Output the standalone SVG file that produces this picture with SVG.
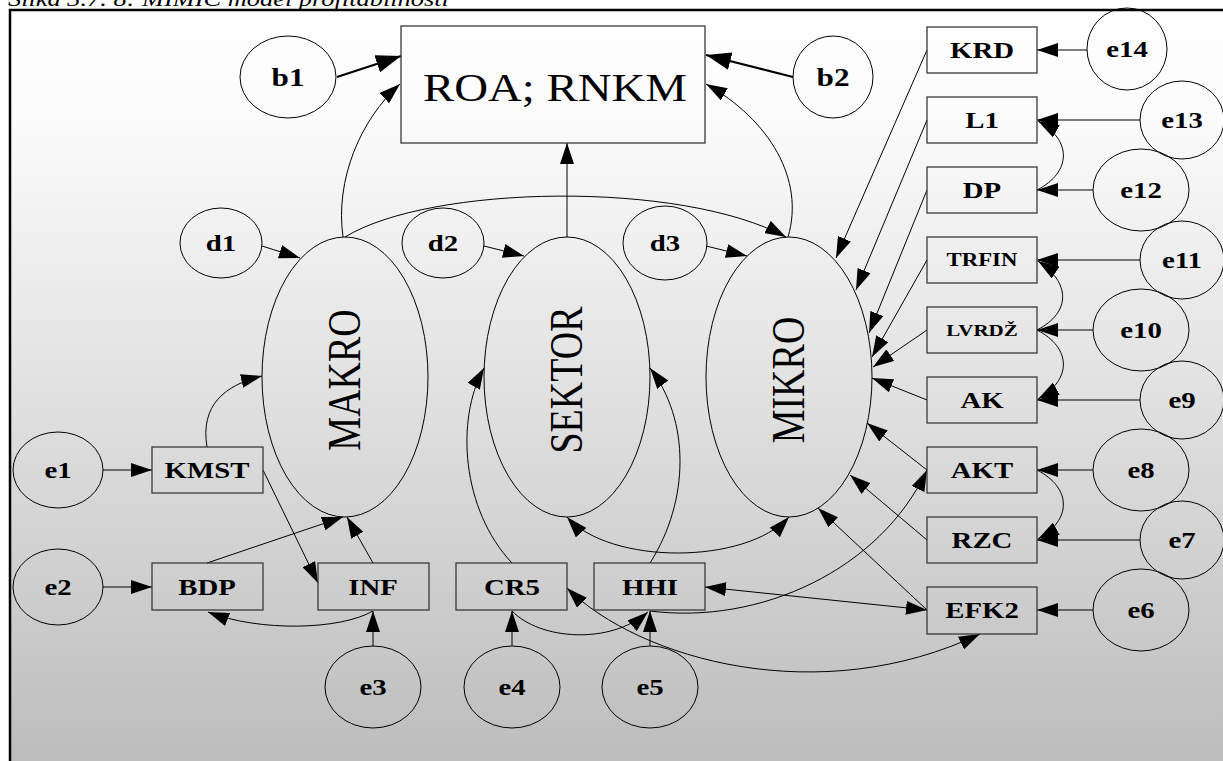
<svg xmlns="http://www.w3.org/2000/svg" width="1223" height="761" viewBox="0 0 1223 761">
  <defs>
    <linearGradient id="bg" gradientUnits="userSpaceOnUse" x1="0" y1="10" x2="0" y2="761">
      <stop offset="0" stop-color="#ffffff"/>
      <stop offset="0.15" stop-color="#fbfbfb"/>
      <stop offset="1" stop-color="#bdbdbd"/>
    </linearGradient>
    <marker id="ah" viewBox="0 0 21 14" refX="21" refY="7" markerWidth="21" markerHeight="14" markerUnits="userSpaceOnUse" orient="auto-start-reverse">
      <path d="M0,0 L21,7 L0,14 Z" fill="#000"/>
    </marker>
    <marker id="ahb" viewBox="0 0 25 18" refX="25" refY="9" markerWidth="25" markerHeight="18" markerUnits="userSpaceOnUse" orient="auto">
      <path d="M0,0 L25,9 L0,18 Z" fill="#000"/>
    </marker>
    <style>
      text { font-family: "Liberation Serif", "Times New Roman", serif; fill: #000; }
      .cap { font-style: italic; font-size: 22px; }
      .box { fill: none; stroke: #3a3a3a; stroke-width: 1.3; }
      .ell { fill: none; stroke: #000; stroke-width: 1; }
      .lbl { font-weight: bold; font-size: 24px; text-anchor: middle; }
      .lbl.sm { font-size: 19px; }
      .lbl.xs { font-size: 17.5px; }
      .lbl.big { font-size: 26px; }
      .lat { font-size: 38px; text-anchor: middle; }
      .roa { font-size: 39px; text-anchor: middle; }
      .c { fill: none; stroke: #000; stroke-width: 1; marker-end: url(#ah); }
      .c2 { fill: none; stroke: #000; stroke-width: 1; marker-start: url(#ah); marker-end: url(#ah); }
      .thick { fill: none; stroke: #000; stroke-width: 2.2; marker-end: url(#ahb); }
    </style>
  </defs>

  <!-- caption, partly above the page edge -->
  <text class="cap" transform="translate(8 6) scale(1.2 1)">Slika 3.7. 8: MIMIC model profitabilnosti</text>

  <!-- framed background -->
  <rect x="10" y="10" width="1240" height="800" fill="url(#bg)" stroke="#000" stroke-width="2.5"/>

  <!-- connectors -->
  <g id="connectors">
    <path class="thick" d="M337,77 L401,56"/>
    <path class="thick" d="M793,77 L706,55"/>
    <path class="c" d="M343,237 C335,180 360,120 400,84"/>
    <path class="c" d="M567,237 L567,143"/>
    <path class="c" d="M788,237 C805,180 770,120 706,84"/>
    <path class="c" d="M345,237 C430,185 680,180 786,237"/>
    <path class="c" d="M262,246 L300,258"/>
    <path class="c" d="M484,246 L524,256"/>
    <path class="c" d="M706,246 L747,256"/>

    <path class="c" d="M927,50 L836,258"/>
    <path class="c" d="M927,120 L856,290"/>
    <path class="c" d="M927,190 L869,333"/>
    <path class="c" d="M927,260 L872,357"/>
    <path class="c" d="M927,330 L873,367"/>
    <path class="c" d="M927,400 L872,378"/>
    <path class="c" d="M927,470 L867,423"/>
    <path class="c" d="M927,540 L850,475"/>
    <path class="c" d="M927,610 L818,508"/>

    <path class="c" d="M650,611 C760,625 880,570 927,470"/>
    <path class="c2" d="M927,610 L705,587"/>
    <path class="c2" d="M567,588 C640,660 820,710 980,634"/>
    <path class="c2" d="M567,517 C610,565 745,565 789,517"/>

    <path class="c" d="M512,563 C462,510 455,420 484,368"/>
    <path class="c" d="M650,563 C690,500 690,420 650,368"/>
    <path class="c" d="M512,611 C540,640 610,645 648,612"/>

    <path class="c" d="M207,447 C200,405 225,385 262,376"/>
    <path class="c" d="M263,470 L318,583"/>
    <path class="c" d="M207,563 L343,517"/>
    <path class="c" d="M373,563 L347,517"/>
    <path class="c" d="M373,611 C340,630 260,632 208,612"/>

    <path class="c" d="M103,470 L152,470"/>
    <path class="c" d="M103,587 L152,587"/>
    <path class="c" d="M373,646 L373,611"/>
    <path class="c" d="M512,646 L512,611"/>
    <path class="c" d="M650,646 L650,611"/>

    <path class="c" d="M1087,50 L1037,50"/>
    <path class="c" d="M1140,120 L1037,120"/>
    <path class="c" d="M1093,190 L1037,190"/>
    <path class="c" d="M1140,260 L1037,260"/>
    <path class="c" d="M1093,330 L1037,330"/>
    <path class="c" d="M1140,400 L1037,400"/>
    <path class="c" d="M1093,470 L1037,470"/>
    <path class="c" d="M1140,540 L1037,540"/>
    <path class="c" d="M1093,610 L1037,610"/>

    <path class="c" d="M1037,190 C1072,172 1072,140 1038,121"/>
    <path class="c" d="M1037,330 C1072,312 1070,282 1038,261"/>
    <path class="c" d="M1037,330 C1072,348 1072,380 1038,399"/>
    <path class="c" d="M1037,470 C1072,488 1072,520 1038,539"/>
  </g>

  <!-- outcome -->
  <g id="ROA"><rect class="box" x="401" y="26" width="304" height="117"/>
    <text class="roa" transform="translate(555 101) scale(1.2 1)">ROA; RNKM</text></g>
  <g id="b1"><ellipse class="ell" cx="288" cy="77" rx="48" ry="41"/>
    <text class="lbl big" transform="translate(288 86) scale(1.2 1)">b1</text></g>
  <g id="b2"><ellipse class="ell" cx="833" cy="77" rx="40" ry="41"/>
    <text class="lbl big" transform="translate(833 86) scale(1.2 1)">b2</text></g>

  <!-- latent constructs -->
  <g id="MAKRO"><ellipse class="ell" cx="345" cy="377" rx="83" ry="140"/>
    <text class="lat" transform="translate(345 380) scale(1.2 1) rotate(-90)" y="12.5">MAKRO</text></g>
  <g id="SEKTOR"><ellipse class="ell" cx="567" cy="377" rx="83" ry="140"/>
    <text class="lat" transform="translate(567 380) scale(1.2 1) rotate(-90)" y="12.5">SEKTOR</text></g>
  <g id="MIKRO"><ellipse class="ell" cx="789" cy="377" rx="83" ry="140"/>
    <text class="lat" transform="translate(789 380) scale(1.2 1) rotate(-90)" y="12.5">MIKRO</text></g>

  <g id="d1"><ellipse class="ell" cx="221" cy="243" rx="41" ry="35"/>
    <text class="lbl" transform="translate(221 251) scale(1.2 1)">d1</text></g>
  <g id="d2"><ellipse class="ell" cx="443" cy="243" rx="41" ry="35"/>
    <text class="lbl" transform="translate(443 251) scale(1.2 1)">d2</text></g>
  <g id="d3"><ellipse class="ell" cx="665" cy="243" rx="42" ry="37"/>
    <text class="lbl" transform="translate(665 251) scale(1.2 1)">d3</text></g>

  <!-- macro indicators -->
  <g id="KMST"><rect class="box" x="152" y="447" width="111" height="46"/>
    <text class="lbl" transform="translate(207 478) scale(1.2 1)">KMST</text></g>
  <g id="BDP"><rect class="box" x="152" y="563" width="111" height="47"/>
    <text class="lbl" transform="translate(207 595) scale(1.2 1)">BDP</text></g>
  <g id="INF"><rect class="box" x="318" y="563" width="111" height="47"/>
    <text class="lbl" transform="translate(373 595) scale(1.2 1)">INF</text></g>
  <g id="e1"><ellipse class="ell" cx="58" cy="470" rx="45" ry="38"/>
    <text class="lbl" transform="translate(58 478) scale(1.2 1)">e1</text></g>
  <g id="e2"><ellipse class="ell" cx="58" cy="587" rx="45" ry="38"/>
    <text class="lbl" transform="translate(58 595) scale(1.2 1)">e2</text></g>
  <g id="e3"><ellipse class="ell" cx="373" cy="687" rx="48" ry="41"/>
    <text class="lbl" transform="translate(373 695) scale(1.2 1)">e3</text></g>

  <!-- sector indicators -->
  <g id="CR5"><rect class="box" x="456" y="563" width="111" height="47"/>
    <text class="lbl" transform="translate(512 595) scale(1.2 1)">CR5</text></g>
  <g id="HHI"><rect class="box" x="594" y="563" width="111" height="47"/>
    <text class="lbl" transform="translate(650 595) scale(1.2 1)">HHI</text></g>
  <g id="e4"><ellipse class="ell" cx="512" cy="687" rx="48" ry="41"/>
    <text class="lbl" transform="translate(512 695) scale(1.2 1)">e4</text></g>
  <g id="e5"><ellipse class="ell" cx="650" cy="687" rx="48" ry="41"/>
    <text class="lbl" transform="translate(650 695) scale(1.2 1)">e5</text></g>

  <!-- micro indicators -->
  <g id="KRD"><rect class="box" x="927" y="27" width="110" height="46"/>
    <text class="lbl" transform="translate(982 58) scale(1.2 1)">KRD</text></g>
  <g id="L1"><rect class="box" x="927" y="97" width="110" height="46"/>
    <text class="lbl" transform="translate(982 128) scale(1.2 1)">L1</text></g>
  <g id="DP"><rect class="box" x="927" y="167" width="110" height="46"/>
    <text class="lbl" transform="translate(982 198) scale(1.2 1)">DP</text></g>
  <g id="TRFIN"><rect class="box" x="927" y="237" width="110" height="46"/>
    <text class="lbl sm" transform="translate(982 266) scale(1.2 1)">TRFIN</text></g>
  <g id="LVRDZ"><rect class="box" x="927" y="307" width="110" height="46"/>
    <text class="lbl xs" transform="translate(982 336) scale(1.2 1)">LVRDŽ</text></g>
  <g id="AK"><rect class="box" x="927" y="377" width="110" height="46"/>
    <text class="lbl" transform="translate(982 408) scale(1.2 1)">AK</text></g>
  <g id="AKT"><rect class="box" x="927" y="447" width="110" height="46"/>
    <text class="lbl" transform="translate(982 478) scale(1.2 1)">AKT</text></g>
  <g id="RZC"><rect class="box" x="927" y="517" width="110" height="46"/>
    <text class="lbl" transform="translate(982 548) scale(1.2 1)">RZC</text></g>
  <g id="EFK2"><rect class="box" x="927" y="587" width="110" height="47"/>
    <text class="lbl" transform="translate(982 618) scale(1.2 1)">EFK2</text></g>

  <g id="e14"><ellipse class="ell" cx="1127" cy="49" rx="40" ry="41"/>
    <text class="lbl" transform="translate(1127 57) scale(1.2 1)">e14</text></g>
  <g id="e13"><ellipse class="ell" cx="1182" cy="120" rx="42" ry="39"/>
    <text class="lbl" transform="translate(1182 128) scale(1.2 1)">e13</text></g>
  <g id="e12"><ellipse class="ell" cx="1141" cy="190" rx="48" ry="41"/>
    <text class="lbl" transform="translate(1141 198) scale(1.2 1)">e12</text></g>
  <g id="e11"><ellipse class="ell" cx="1182" cy="260" rx="42" ry="39"/>
    <text class="lbl" transform="translate(1182 268) scale(1.2 1)">e11</text></g>
  <g id="e10"><ellipse class="ell" cx="1141" cy="330" rx="48" ry="41"/>
    <text class="lbl" transform="translate(1141 338) scale(1.2 1)">e10</text></g>
  <g id="e9"><ellipse class="ell" cx="1182" cy="400" rx="42" ry="39"/>
    <text class="lbl" transform="translate(1182 408) scale(1.2 1)">e9</text></g>
  <g id="e8"><ellipse class="ell" cx="1141" cy="470" rx="48" ry="41"/>
    <text class="lbl" transform="translate(1141 478) scale(1.2 1)">e8</text></g>
  <g id="e7"><ellipse class="ell" cx="1182" cy="540" rx="42" ry="39"/>
    <text class="lbl" transform="translate(1182 548) scale(1.2 1)">e7</text></g>
  <g id="e6"><ellipse class="ell" cx="1141" cy="610" rx="48" ry="41"/>
    <text class="lbl" transform="translate(1141 618) scale(1.2 1)">e6</text></g>
</svg>
